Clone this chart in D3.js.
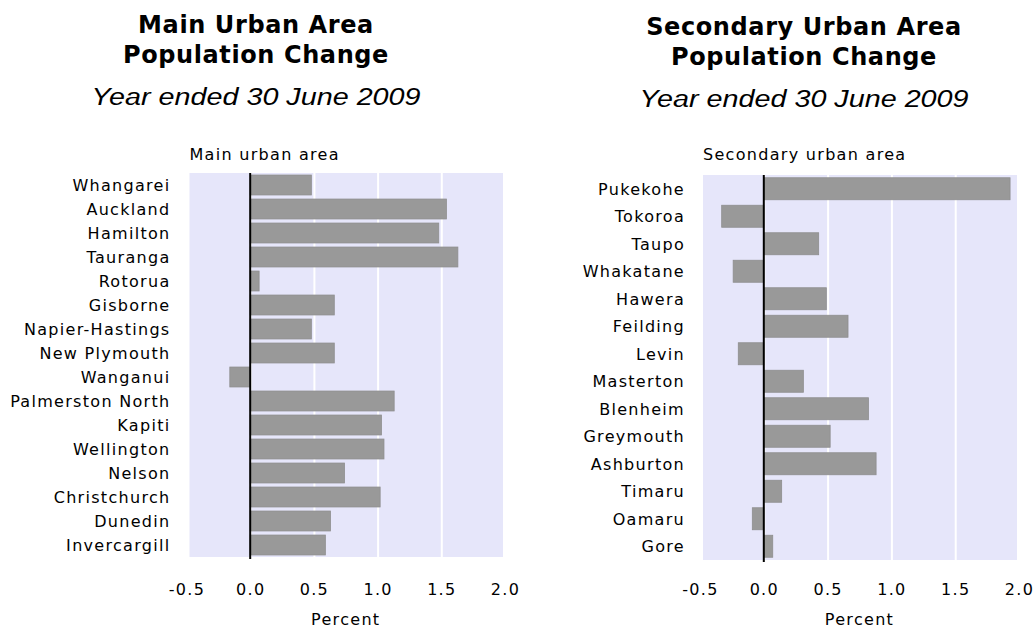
<!DOCTYPE html>
<html>
<head>
<meta charset="utf-8">
<script src="https://cdn.jsdelivr.net/npm/d3@7"></script>
<style>
  body { margin: 0; background: #fff; }
  .cat-label, .tick-label, .head-label, .unit-label { font-family: "DejaVu Sans", sans-serif; font-size: 16px; letter-spacing: 1.3px; fill: #000; }
  .title { font-family: "DejaVu Sans", sans-serif; font-weight: bold; font-size: 24px; letter-spacing: 0.6px; fill: #000; }
  .subtitle { font-family: "Liberation Sans", Arial, sans-serif; font-style: italic; font-size: 23px; fill: #000; }
</style>
</head>
<body>
<div id="chart"></div>
<script>
document.addEventListener('DOMContentLoaded', function() {
        // Colors
        const plot_bg = "#e6e6fa";
        const bar_color = "#999999";
        const bar_edge = "#8e8e8e";

        // Data
        const mainAreas = ["Whangarei", "Auckland", "Hamilton", "Tauranga", "Rotorua", "Gisborne",
            "Napier-Hastings", "New Plymouth", "Wanganui", "Palmerston North", "Kapiti",
            "Wellington", "Nelson", "Christchurch", "Dunedin", "Invercargill"];
        const mainChange = [0.48, 1.54, 1.48, 1.63, 0.07, 0.66, 0.48, 0.66, -0.16, 1.13, 1.03,
            1.05, 0.74, 1.02, 0.63, 0.59];

        const secondaryAreas = ["Pukekohe", "Tokoroa", "Taupo", "Whakatane", "Hawera", "Feilding",
            "Levin", "Masterton", "Blenheim", "Greymouth", "Ashburton", "Timaru", "Oamaru", "Gore"];
        const secondaryChange = [1.93, -0.33, 0.43, -0.24, 0.49, 0.66, -0.20, 0.31, 0.82, 0.52,
            0.88, 0.14, -0.09, 0.07];

        const xTicks = [-0.5, 0.0, 0.5, 1.0, 1.5, 2.0];
        const xDomain = [-0.5, 2.0];
        const unitLabel = "Percent";
        const mainTitle = ["Main Urban Area", "Population Change", "Year ended 30 June 2009"];
        const secondaryTitle = ["Secondary Urban Area", "Population Change", "Year ended 30 June 2009"];

        // Create SVG
        const svg = d3.select("#chart")
            .append("svg")
            .attr("width", 1034)
            .attr("height", 628);

        svg.append("rect")
            .attr("width", 1034)
            .attr("height", 628)
            .attr("fill", "#ffffff");

        function drawPanel(cfg) {
            const g = svg.append("g");

            // Titles
            g.append("text").attr("class", "title").attr("text-anchor", "middle")
                .attr("x", cfg.titleX).attr("y", cfg.titleY[0]).text(cfg.title[0]);
            g.append("text").attr("class", "title").attr("text-anchor", "middle")
                .attr("x", cfg.titleX).attr("y", cfg.titleY[1]).text(cfg.title[1]);
            // subtitle glyphs are wide in the original, so stretch horizontally
            g.append("text").attr("class", "subtitle").attr("text-anchor", "middle")
                .attr("transform", `translate(${cfg.titleX},${cfg.titleY[2]}) scale(1.25,1)`)
                .text(cfg.title[2]);

            // Scales
            const x = d3.scaleLinear().domain(xDomain).range(cfg.xRange);
            const y = d3.scaleBand()
                .domain(cfg.areas)
                .range(cfg.yRange)
                .paddingInner(cfg.pad)
                .paddingOuter(cfg.pad / 2);

            const top = cfg.yRange[0], bottom = cfg.yRange[1];
            const left = x(xDomain[0]) + 3, right = x(xDomain[1]) - 2;

            // Plot background
            g.append("rect")
                .attr("x", left)
                .attr("y", top)
                .attr("width", right - left)
                .attr("height", bottom - top)
                .attr("fill", plot_bg);

            // Grid
            const grid = g.append("g")
                .attr("transform", `translate(0,${bottom})`)
                .call(d3.axisBottom(x).tickValues(xTicks).tickSize(-(bottom - top)).tickFormat(""));
            grid.select(".domain").remove();
            grid.selectAll(".tick line").attr("stroke", "#ffffff").attr("stroke-width", 2);

            // Header above the category labels
            g.append("text")
                .attr("class", "head-label")
                .attr("x", left)
                .attr("y", 160)
                .text(cfg.header);

            // Bars
            g.selectAll(".bar")
                .data(cfg.values)
                .enter().append("rect")
                .attr("class", "bar")
                .attr("x", d => x(Math.min(0, d)))
                .attr("y", (d, i) => y(cfg.areas[i]))
                .attr("width", d => Math.abs(x(d) - x(0)))
                .attr("height", y.bandwidth())
                .attr("fill", bar_color)
                .attr("stroke", bar_edge)
                .attr("stroke-width", 0.8);

            // Zero line
            g.append("line")
                .attr("x1", x(0)).attr("x2", x(0))
                .attr("y1", top).attr("y2", bottom + 2)
                .attr("stroke", "#000")
                .attr("stroke-width", 2);

            // Category labels
            const yAxis = g.append("g")
                .attr("transform", `translate(${left},0)`)
                .call(d3.axisLeft(y).tickSize(0).tickPadding(cfg.labelPad));
            yAxis.select(".domain").remove();
            yAxis.attr("font-family", null).attr("font-size", null);
            yAxis.selectAll("text").attr("class", "cat-label").attr("dy", "0.37em");

            // X tick labels
            const xAxis = g.append("g")
                .attr("transform", `translate(0,581)`)
                .call(d3.axisBottom(x).tickValues(xTicks).tickSize(0).tickFormat(d => d.toFixed(1)));
            xAxis.select(".domain").remove();
            xAxis.attr("font-family", null).attr("font-size", null);
            xAxis.selectAll("text").attr("class", "tick-label");

            // Axis title
            g.append("text")
                .attr("class", "unit-label")
                .attr("text-anchor", "middle")
                .attr("x", (x(xDomain[0]) + x(xDomain[1])) / 2)
                .attr("y", 625)
                .text(unitLabel);
        }

        drawPanel({
            areas: mainAreas, values: mainChange, header: "Main urban area",
            title: mainTitle, titleX: 256, titleY: [33, 63, 105],
            xRange: [186.5, 505], yRange: [173, 557], pad: 0.17, labelPad: 19
        });

        drawPanel({
            areas: secondaryAreas, values: secondaryChange, header: "Secondary urban area",
            title: secondaryTitle, titleX: 804, titleY: [35, 65, 107],
            xRange: [700, 1019], yRange: [175, 560], pad: 0.2, labelPad: 18
        });
});
</script>
</body>
</html>
